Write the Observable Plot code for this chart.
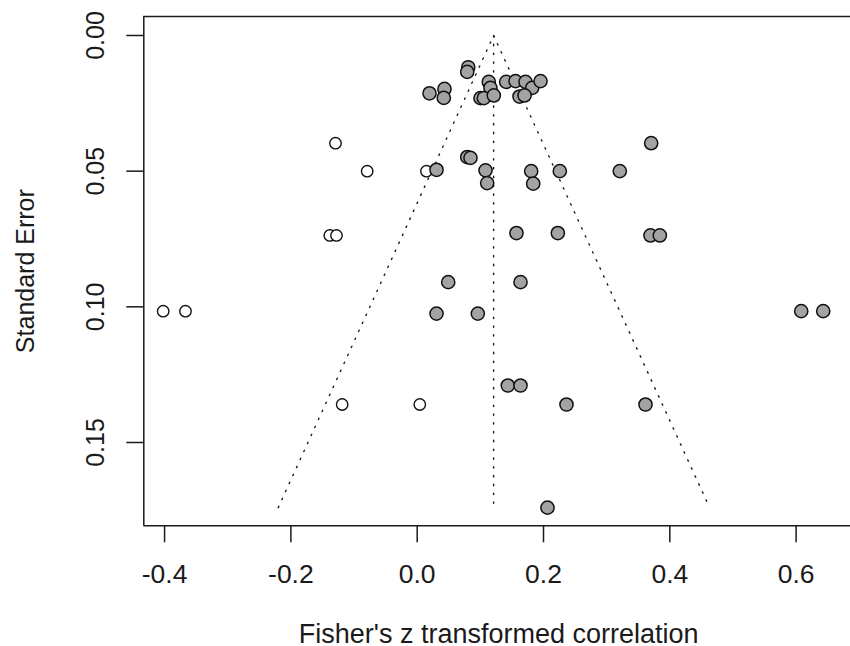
<!DOCTYPE html>
<html><head><meta charset="utf-8">
<script src="https://cdn.jsdelivr.net/npm/d3@7"></script>
<script src="https://cdn.jsdelivr.net/npm/@observablehq/plot@0.6"></script>
<style>
html,body{margin:0;padding:0;background:#fff;overflow:hidden}
#chart{width:850px;height:646px;overflow:hidden}
</style></head><body><div id="chart"></div>
<script>
// Observed studies (filled)
const obsZ  = [0.0808, 0.0792, 0.0195, 0.0432, 0.0421, 0.1134, 0.1160, 0.1002, 0.1055, 0.1213, 0.1409, 0.1557, 0.1715, 0.1821, 0.1953, 0.1620, 0.1700,
               0.0306, 0.0792, 0.0844, 0.1082, 0.1108, 0.1805, 0.1837, 0.2258, 0.3208, 0.3705,
               0.1572, 0.2227, 0.3694, 0.3842, 0.0491, 0.1636, 0.0306, 0.0960, 0.6081, 0.6429,
               0.1435, 0.1636, 0.2364, 0.3615, 0.2063];
const obsSE = [0.0117, 0.0134, 0.0213, 0.0197, 0.0230, 0.0171, 0.0193, 0.0231, 0.0231, 0.0221, 0.0171, 0.0168, 0.0171, 0.0193, 0.0168, 0.0225, 0.0221,
               0.0495, 0.0448, 0.0451, 0.0497, 0.0544, 0.0500, 0.0546, 0.0500, 0.0500, 0.0397,
               0.0728, 0.0728, 0.0737, 0.0737, 0.0909, 0.0909, 0.1025, 0.1025, 0.1016, 0.1016,
               0.1290, 0.1290, 0.1360, 0.1360, 0.1740];
// Imputed studies (trim-and-fill, open)
const impZ  = [-0.1294, -0.0792, 0.0147, -0.1384, -0.1278, -0.4022, -0.3669, -0.1188, 0.0041];
const impSE = [0.0397, 0.0500, 0.0500, 0.0737, 0.0737, 0.1016, 0.1016, 0.1360, 0.1360];
// Funnel (pseudo confidence region) and centre line
const funnelZ  = [-0.220, 0.121, 0.463];
const funnelSE = [0.174, 0.000, 0.174];
const centreZ  = [0.121, 0.121];
const centreSE = [0.000, 0.174];
// Axes
const xDomain = [-0.4329, 0.6861];
const yDomain = [-0.0070, 0.1807];
const xTicks = [-0.4, -0.2, 0.0, 0.2, 0.4, 0.6];
const yTicks = [0.00, 0.05, 0.10, 0.15];
const xLabel = "Fisher's z transformed correlation";
const yLabel = "Standard Error";

const obs = obsZ.map((z, i) => ({z, se: obsSE[i]}));
const imp = impZ.map((z, i) => ({z, se: impSE[i]}));
const funnel = funnelZ.map((z, i) => ({z, se: funnelSE[i]}));
const centre = centreZ.map((z, i) => ({z, se: centreSE[i]}));

const ink = "#1a1a1a";
const plot = Plot.plot({
  width: 850, height: 646,
  marginLeft: 143.3, marginRight: 0, marginTop: 16, marginBottom: 120.7,
  style: {fontFamily: '"Liberation Sans", Arial, sans-serif', background: "#fff", color: ink},
  x: {domain: xDomain, label: null},
  y: {domain: yDomain, reverse: true, label: null},
  marks: [
    Plot.line(funnel, {x: "z", y: "se", stroke: ink, strokeWidth: 1.4, strokeDasharray: "1.4,7.4"}),
    Plot.line(centre, {x: "z", y: "se", stroke: ink, strokeWidth: 1.4, strokeDasharray: "1.4,7.4"}),
    Plot.dot(imp, {x: "z", y: "se", r: 5.7, fill: "white", stroke: "#111", strokeWidth: 1.4}),
    Plot.dot(obs, {x: "z", y: "se", r: 6.6, fill: "#a3a3a3", stroke: "#111", strokeWidth: 1.5}),
    // box: top, bottom and left sides (right side lies beyond the picture)
    Plot.ruleY(yDomain, {stroke: ink, strokeWidth: 1.5}),
    Plot.ruleX([xDomain[0]], {stroke: ink, strokeWidth: 1.5}),
    Plot.axisX({ticks: xTicks, tickSize: 17, tickPadding: 21, strokeWidth: 1.5,
      tickFormat: d => d.toFixed(1), fontSize: 26.5, label: null}),
    Plot.axisY({ticks: yTicks, tickSize: 17, strokeWidth: 1.5, tickFormat: () => "", label: null}),
    Plot.text(yTicks, {y: d => d, frameAnchor: "left", dx: -48, rotate: -90, text: d => d.toFixed(2),
      fontSize: 25, textAnchor: "middle", lineAnchor: "middle", fill: ink}),
    Plot.text([yLabel], {frameAnchor: "left", dx: -118, rotate: -90, text: d => d,
      fontSize: 25, textAnchor: "middle", lineAnchor: "middle", fill: ink}),
    Plot.text([xLabel], {frameAnchor: "bottom", dy: 109, dx: 1.5, text: d => d,
      fontSize: 27, textAnchor: "middle", lineAnchor: "middle", fill: ink})
  ]
});
document.getElementById("chart").appendChild(plot);
</script>
</body></html>
